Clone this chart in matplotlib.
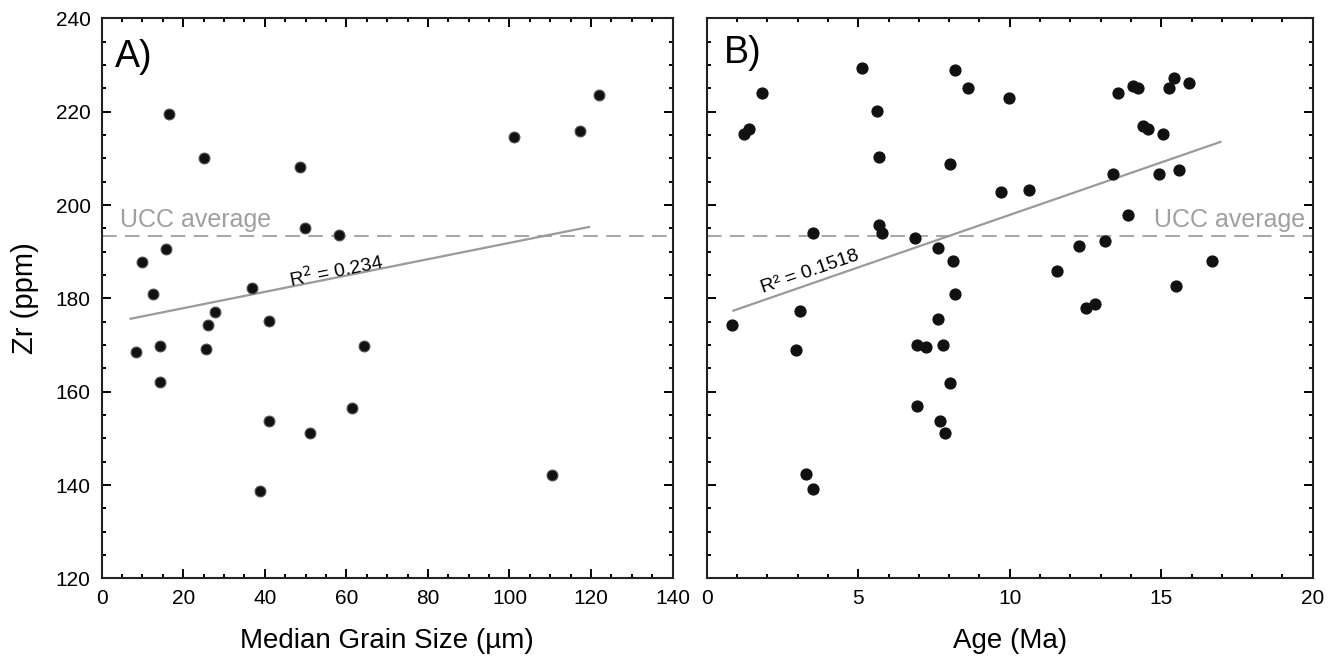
import matplotlib
matplotlib.use("Agg")
import matplotlib.pyplot as plt
from matplotlib.ticker import MultipleLocator
import numpy as np

plt.rcParams['font.family'] = ['Liberation Sans', 'DejaVu Sans']

# panel A: median grain size (um) vs Zr (ppm)
grain_size = [16.5, 25.0, 48.6, 49.8, 58.2, 15.7, 10.0, 12.6, 36.9,
              27.8, 41.0, 26.0, 8.4, 14.3, 25.5, 64.3, 14.2, 61.3,
              41.0, 51.0, 38.8, 122.0, 117.4, 101.2, 110.5]
zr_a = [219.5, 210.0, 208.2, 195.1, 193.6, 190.5, 187.7, 180.9, 182.3,
        177.0, 175.1, 174.2, 168.6, 169.9, 169.1, 169.9, 162.0, 156.6,
        153.7, 151.2, 138.8, 223.6, 215.9, 214.7, 142.1]

# panel B: age (Ma) vs Zr (ppm)
age = [5.11, 8.20, 8.62, 9.97, 1.83, 1.41, 1.23, 5.61, 5.70, 8.04,
       9.71, 5.70, 5.79, 3.52, 6.88, 7.62, 8.13, 8.20,
       0.84, 3.09, 2.93, 7.62, 6.95, 7.22, 7.79, 8.03, 6.95, 7.71,
       7.87, 3.26, 3.52,
       13.56, 14.07, 14.24, 15.41, 15.25, 15.92, 14.40, 14.57, 15.07,
       13.41, 14.92, 15.59, 10.64, 13.90, 13.15, 12.30, 11.56, 16.66,
       15.50, 12.50, 12.82]
zr_b = [229.4, 228.9, 225.0, 222.9, 224.0, 216.4, 215.2, 220.1, 210.4, 208.7,
        202.8, 195.8, 194.1, 194.1, 192.9, 190.8, 188.1, 181.0,
        174.4, 177.2, 169.0, 175.5, 170.1, 169.5, 170.1, 161.9, 157.0, 153.8,
        151.1, 142.4, 139.1,
        224.0, 225.5, 225.0, 227.2, 225.0, 226.2, 217.0, 216.3, 215.2,
        206.6, 206.6, 207.6, 203.2, 197.8, 192.4, 191.2, 185.9, 188.1,
        182.6, 178.0, 178.8]

# fitted lines: (slope, intercept, x range)
fit_a = (0.175, 174.4, [7.1, 119.5])
fit_b = (2.25, 175.4, [0.88, 16.95])
r2_a = "R$^2$ = 0.234"
r2_b = "R² = 0.1518"
ucc_zr = 193.3

fig = plt.figure(figsize=(13.34, 6.62), dpi=100)
ax1 = fig.add_axes([0.0762, 0.1264, 0.428, 0.8457])
ax2 = fig.add_axes([0.5298, 0.1264, 0.4543, 0.8457])

for ax in (ax1, ax2):
    ax.set_ylim(120, 240)
    ax.yaxis.set_major_locator(MultipleLocator(20))
    ax.yaxis.set_minor_locator(MultipleLocator(5))
    ax.tick_params(which='both', direction='in', top=True, right=True,
                   width=1.4, labelsize=15, pad=8)
    ax.tick_params(which='major', length=6.5)
    ax.tick_params(which='minor', length=3.2)
    for s in ax.spines.values():
        s.set_linewidth(1.5)
        s.set_color('#222222')
    ax.axhline(ucc_zr, color='#a8a8a8', lw=1.5, ls=(0, (7, 4)), zorder=1)

ax1.set_xlim(0, 140)
ax1.xaxis.set_major_locator(MultipleLocator(20))
ax1.xaxis.set_minor_locator(MultipleLocator(5))
ax2.set_xlim(0, 20)
ax2.xaxis.set_major_locator(MultipleLocator(5))
ax2.xaxis.set_minor_locator(MultipleLocator(1))
ax2.tick_params(labelleft=False)

# panel A
ax1.plot(grain_size, zr_a, 'o', ms=7.8, color='#111111', mec='#555555', mew=0.8, zorder=3)
xs = np.array(fit_a[2])
ax1.plot(xs, fit_a[0] * xs + fit_a[1], color='#9a9a9a', lw=1.6, zorder=2)
ax1.text(4.5, 196.8, "UCC average", color='#a0a0a0', fontsize=18, va='center', ha='left')
ax1.text(57.5, 185.9, r2_a, fontsize=14, rotation=11.3, ha='center', va='center',
         rotation_mode='anchor')
ax1.text(3.3, 229.7, "A)", fontsize=27, va='baseline', ha='left')
ax1.set_xlabel("Median Grain Size (µm)", fontsize=20, labelpad=14)
ax1.set_ylabel("Zr (ppm)", fontsize=21, labelpad=12)

# panel B
ax2.plot(age, zr_b, 'o', ms=7.8, color='#111111', zorder=3)
xs = np.array(fit_b[2])
ax2.plot(xs, fit_b[0] * xs + fit_b[1], color='#9a9a9a', lw=1.6, zorder=2)
ax2.text(19.75, 196.8, "UCC average", color='#a0a0a0', fontsize=18, va='center', ha='right')
ax2.text(3.41, 185.6, r2_b, fontsize=14, rotation=19.1, ha='center', va='center',
         rotation_mode='anchor')
ax2.text(0.55, 230.5, "B)", fontsize=27, va='baseline', ha='left')
ax2.set_xlabel("Age (Ma)", fontsize=20, labelpad=14)

fig.savefig("out.png", dpi=100)
